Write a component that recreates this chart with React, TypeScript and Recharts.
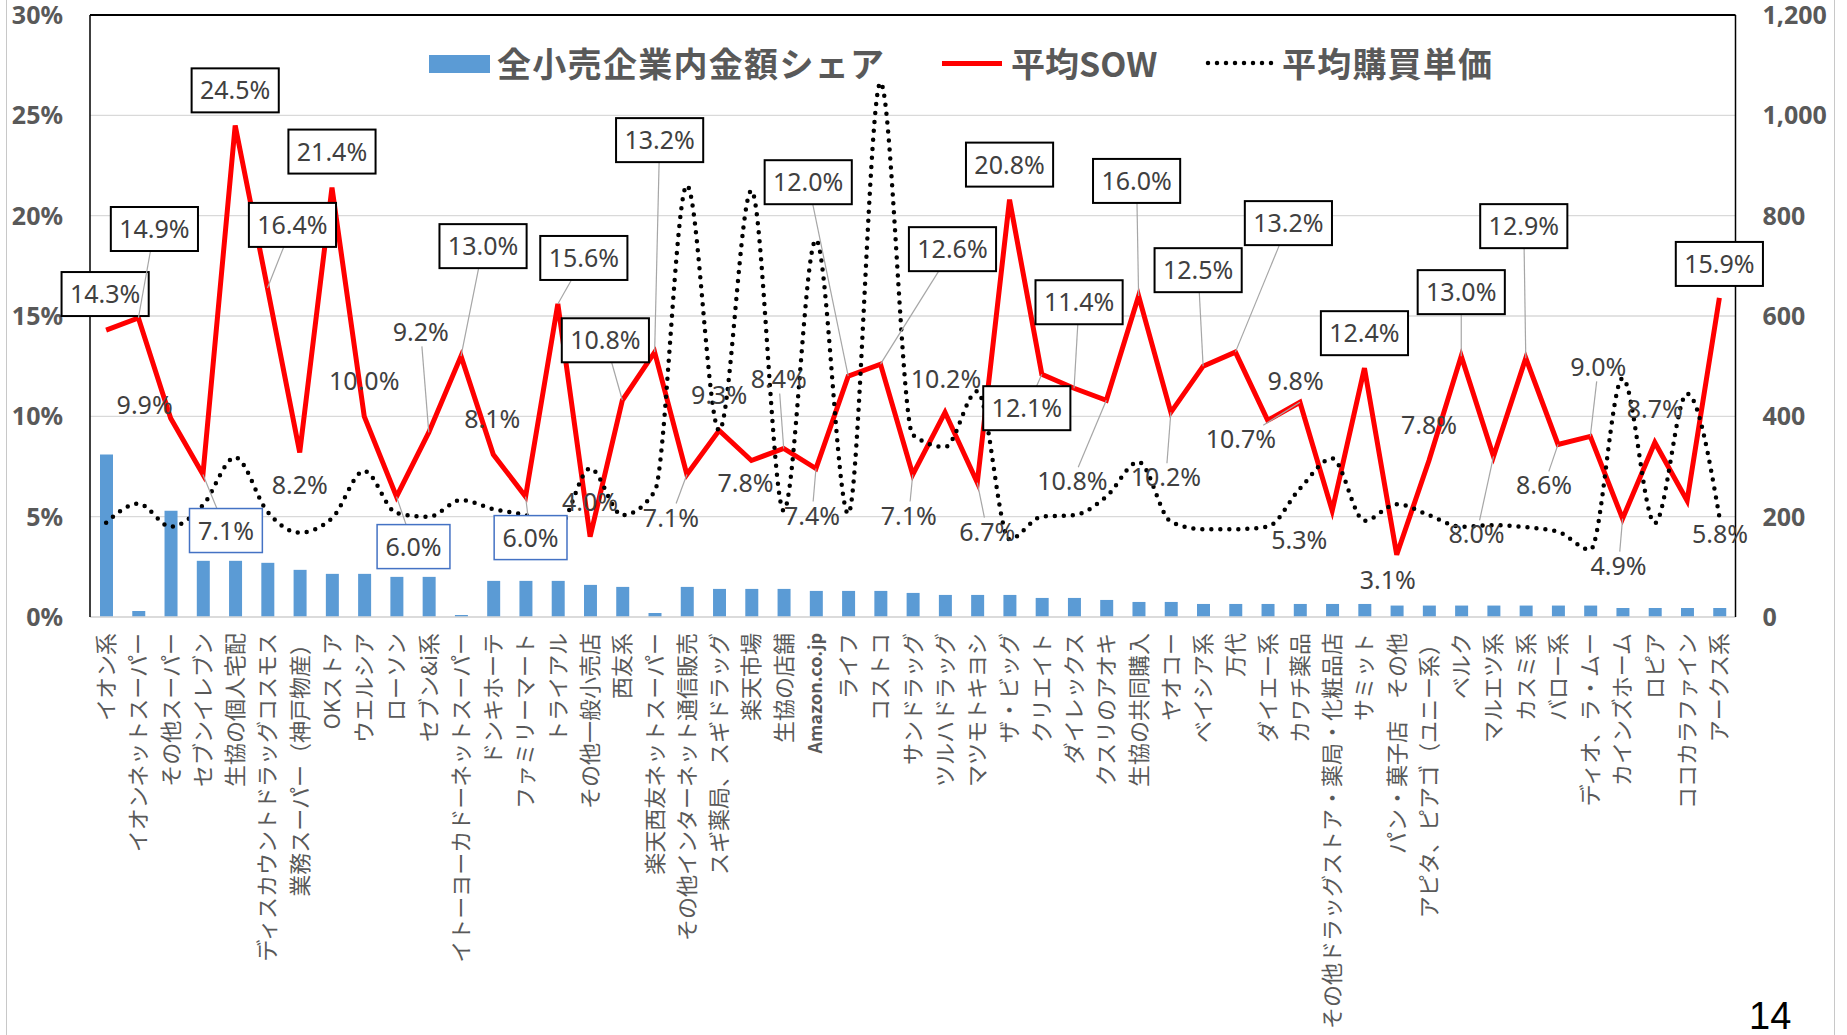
import {
  ComposedChart,
  Bar,
  Line,
  XAxis,
  YAxis,
  CartesianGrid,
  ReferenceLine,
  Legend,
  LabelList,
} from 'recharts'

const stores = [
  'イオン系', 'イオンネットスーパー', 'その他スーパー', 'セブンイレブン', '生協の個人宅配',
  'ディスカウントドラッグコスモス', '業務スーパー（神戸物産）', 'OKストア', 'ウエルシア', 'ローソン',
  'セブン&i系', 'イトーヨーカドーネットスーパー', 'ドンキホーテ', 'ファミリーマート', 'トライアル',
  'その他一般小売店', '西友系', '楽天西友ネットスーパー', 'その他インターネット通信販売', 'スギ薬局、スギドラッグ',
  '楽天市場', '生協の店舗', 'Amazon.co.jp', 'ライフ', 'コストコ',
  'サンドラッグ', 'ツルハドラッグ', 'マツモトキヨシ', 'ザ・ビッグ', 'クリエイト',
  'ダイレックス', 'クスリのアオキ', '生協の共同購入', 'ヤオコー', 'ベイシア系',
  '万代', 'ダイエー系', 'カワチ薬品', 'その他ドラッグストア・薬局・化粧品店', 'サミット',
  'パン・菓子店　その他', 'アピタ、ピアゴ（ユニー系）', 'ベルク', 'マルエツ系', 'カスミ系',
  'バロー系', 'ディオ、ラ・ムー', 'カインズホーム', 'ロピア', 'ココカラファイン',
  'アークス系',
]

// 全小売企業内金額シェア (%)
const amountShare = [
  8.1, 0.3, 5.3, 2.8, 2.8, 2.7, 2.35, 2.15, 2.15, 2.0,
  2.0, 0.1, 1.8, 1.8, 1.8, 1.6, 1.5, 0.2, 1.5, 1.4,
  1.4, 1.4, 1.3, 1.3, 1.3, 1.2, 1.1, 1.1, 1.1, 0.95,
  0.95, 0.85, 0.75, 0.75, 0.65, 0.65, 0.65, 0.65, 0.65, 0.65,
  0.57, 0.57, 0.57, 0.57, 0.57, 0.57, 0.57, 0.45, 0.45, 0.45,
  0.45,
]

// 平均SOW (%)
const avgSow = [
  14.3, 14.9, 9.9, 7.1, 24.5, 16.4, 8.2, 21.4, 10.0, 6.0,
  9.2, 13.0, 8.1, 6.0, 15.6, 4.0, 10.8, 13.2, 7.1, 9.3,
  7.8, 8.4, 7.4, 12.0, 12.6, 7.1, 10.2, 6.7, 20.8, 12.1,
  11.4, 10.8, 16.0, 10.2, 12.5, 13.2, 9.8, 10.7, 5.3, 12.4,
  3.1, 7.8, 13.0, 8.0, 12.9, 8.6, 9.0, 4.9, 8.7, 5.8,
  15.9,
]

// 平均購買単価
const avgPrice = [
  188, 226, 180, 223, 318, 210, 168, 197, 291, 207,
  200, 233, 215, 203, 180, 296, 203, 250, 860, 372,
  850, 212, 752, 206, 1065, 363, 339, 450, 155, 200,
  203, 240, 309, 190, 175, 175, 180, 256, 316, 192,
  225, 203, 180, 183, 179, 170, 134, 476, 187, 445,
  200,
]

const shareTicks = [0, 5, 10, 15, 20, 25, 30]
const priceTicks = [0, 200, 400, 600, 800, 1000, 1200]

// where each SOW label sits relative to its point, and how it is framed
// b = black box, u = blue box, n = no box
const labelDx = [
  -1, 16, -26, 23, 0, 25, 0, 0, 0, 17,
  -8, 22, -1, 5, 26, 0, -17, 5, -16, 0,
  -6, -5, -4, -40, 72, -4, 1, 10, 0, -15,
  5, -34, -2, -5, -5, 53, 28, -59, -33, 0,
  -9, 0, 0, -17, -2, -14, 8, -4, 0, 33,
  0,
]
const labelDy = [
  -36, -89, -13, 56, -35, -63, 33, -36, -35, 50,
  -100, -110, -35, 41, -46, -35, -60, -212, 43, -35,
  23, -69, 47, -194, -115, 41, -33, 49, -35, 34,
  -86, 81, -115, 65, -96, -129, -39, 37, 29, -35,
  25, -35, -64, 78, -132, 41, -69, 47, -33, 33,
  -34,
]
const labelKind = [
  'b', 'b', 'n', 'u', 'b', 'b', 'n', 'b', 'n', 'u',
  'n', 'b', 'n', 'u', 'b', 'n', 'b', 'b', 'n', 'n',
  'n', 'n', 'n', 'b', 'b', 'n', 'n', 'n', 'b', 'b',
  'b', 'n', 'b', 'n', 'b', 'b', 'n', 'n', 'n', 'b',
  'n', 'n', 'b', 'n', 'b', 'n', 'n', 'n', 'n', 'n',
  'b',
]
const labelLeader = [
  0, 1, 0, 1, 0, 1, 0, 0, 0, 1,
  1, 1, 0, 1, 1, 0, 1, 1, 1, 0,
  0, 1, 1, 1, 1, 1, 0, 1, 0, 1,
  1, 1, 1, 1, 1, 1, 0, 1, 0, 0,
  0, 0, 1, 1, 1, 1, 1, 1, 0, 0,
  0,
]

const data = stores.map((name, i) => ({
  name,
  share: amountShare[i],
  sow: avgSow[i],
  price: avgPrice[i],
}))

const GRAY = '#595959'
const LABEL_FONT = 25

const textWidth = (s: string) => {
  let w = 0
  for (const c of s) {
    if (c === '.') w += 0.27
    else if (c === '%') w += 0.86
    else w += 0.572
  }
  return w * LABEL_FONT
}

const SowLabel = (props: any) => {
  const i = props.index
  const px = props.viewBox?.x ?? props.x
  const py = props.viewBox?.y ?? props.y
  if (i == null || px == null || py == null) return null
  const cx = px + labelDx[i]
  const cy = py + labelDy[i]
  const text = `${avgSow[i].toFixed(1)}%`
  const tw = textWidth(text)
  const kind = labelKind[i]
  const w = tw + 16
  const h = 44
  let leader = null
  if (labelLeader[i]) {
    const dx = px - cx
    const dy = py - cy
    const hw = kind === 'n' ? tw / 2 + 2 : w / 2
    const hh = kind === 'n' ? 14 : h / 2
    const t = Math.min(
      dx !== 0 ? hw / Math.abs(dx) : Infinity,
      dy !== 0 ? hh / Math.abs(dy) : Infinity,
    )
    leader = (
      <line x1={cx + dx * t} y1={cy + dy * t} x2={px} y2={py} stroke="#A6A6A6" strokeWidth={1.2} />
    )
  }
  return (
    <g>
      {leader}
      {kind !== 'n' && (
        <rect
          x={cx - w / 2}
          y={cy - h / 2}
          width={w}
          height={h}
          fill="#fff"
          stroke={kind === 'u' ? '#4472C4' : '#000'}
          strokeWidth={kind === 'u' ? 1.5 : 2}
        />
      )}
      <text
        x={cx}
        y={cy}
        dy="0.36em"
        textAnchor="middle"
        fontSize={LABEL_FONT}
        fontFamily="'Noto Sans', 'Noto Sans CJK JP', sans-serif"
        fill="#404040"
      >
        {text}
      </text>
    </g>
  )
}

const StoreTick = ({ x, y, payload }: any) => {
  const latin = /^[A-Za-z.]+$/.test(payload.value)
  return (
    <text
      x={x}
      y={y}
      dy="0.36em"
      transform={`rotate(-90 ${x} ${y})`}
      textAnchor="end"
      fontSize={latin ? 18 : 22}
      fontWeight={latin ? 700 : 400}
      fontFamily="'Noto Sans CJK JP', sans-serif"
      fill={GRAY}
    >
      {payload.value}
    </text>
  )
}

const ShareTick = ({ x, y, payload }: any) => (
  <text x={x} y={y} dy="0.36em" textAnchor="end" fontSize={25} fontWeight={700}
    fontFamily="'Noto Sans', sans-serif" fill={GRAY}>
    {payload.value}%
  </text>
)

const PriceTick = ({ x, y, payload }: any) => (
  <text x={x} y={y} dy="0.36em" textAnchor="start" fontSize={25} fontWeight={700}
    fontFamily="'Noto Sans', sans-serif" fill={GRAY}>
    {payload.value.toLocaleString('en-US')}
  </text>
)

const legendText: React.CSSProperties = {
  position: 'absolute',
  top: 43,
  height: 40,
  lineHeight: '40px',
  fontSize: 34,
  fontWeight: 700,
  color: GRAY,
  fontFamily: "'Noto Sans CJK JP', sans-serif",
  whiteSpace: 'nowrap',
}

const renderLegend = () => (
  <div style={{ position: 'relative', width: 1847, height: 100 }}>
    <div style={{ position: 'absolute', left: 429, top: 55, width: 61, height: 18, background: '#5B9BD5' }} />
    <span style={{ ...legendText, left: 497, letterSpacing: 1.3 }}>全小売企業内金額シェア</span>
    <div style={{ position: 'absolute', left: 942, top: 60.5, width: 60, height: 5, background: '#FF0000' }} />
    <span style={{ ...legendText, left: 1011 }}>平均SOW</span>
    <svg style={{ position: 'absolute', left: 1205, top: 55 }} width={70} height={16}>
      <line x1={3} y1={8} x2={67} y2={8} stroke="#000" strokeWidth={4.5}
        strokeDasharray="0 9" strokeLinecap="round" />
    </svg>
    <span style={{ ...legendText, left: 1282, letterSpacing: 1.2 }}>平均購買単価</span>
  </div>
)

export default function App() {
  return (
    <div style={{ position: 'relative', width: 1847, height: 1035, background: '#fff', overflow: 'hidden' }}>
      <style>{'body{margin:0}'}</style>
      <div style={{ position: 'absolute', left: 6, top: 0, width: 1, height: 1035, background: '#C8C8C8' }} />
      <div style={{ position: 'absolute', left: 1834, top: 0, width: 1, height: 1035, background: '#C8C8C8' }} />
      <ComposedChart
        width={1847}
        height={1035}
        data={data}
        margin={{ top: 15, right: 0, bottom: 0, left: 0 }}
      >
        <CartesianGrid yAxisId="left" vertical={false} stroke="#D9D9D9" strokeWidth={1.3} />
        <XAxis
          dataKey="name"
          interval={0}
          height={418}
          tickSize={0}
          tickMargin={16}
          tickLine={false}
          axisLine={{ stroke: '#D9D9D9', strokeWidth: 1.3 }}
          tick={<StoreTick />}
        />
        <YAxis
          yAxisId="left"
          domain={[0, 30]}
          ticks={shareTicks}
          width={90}
          tickSize={0}
          tickMargin={27}
          tickLine={false}
          axisLine={{ stroke: '#000', strokeWidth: 1.5 }}
          tick={<ShareTick />}
        />
        <YAxis
          yAxisId="right"
          orientation="right"
          domain={[0, 1200]}
          ticks={priceTicks}
          width={111.5}
          tickSize={0}
          tickMargin={27}
          tickLine={false}
          axisLine={{ stroke: '#000', strokeWidth: 1.5 }}
          tick={<PriceTick />}
        />
        <ReferenceLine yAxisId="left" y={30} stroke="#000" strokeWidth={2} />
        <Legend
          layout="vertical"
          align="center"
          verticalAlign="middle"
          wrapperStyle={{ top: 0, left: 0, width: 1847, height: 100 }}
          content={renderLegend}
        />
        <Bar yAxisId="left" dataKey="share" fill="#5B9BD5" barSize={13} isAnimationActive={false} />
        <Line
          yAxisId="left"
          dataKey="sow"
          type="linear"
          stroke="#FF0000"
          strokeWidth={5}
          dot={false}
          activeDot={false}
          isAnimationActive={false}
        />
        <Line
          yAxisId="right"
          dataKey="price"
          type="monotone"
          stroke="#000"
          strokeWidth={4.5}
          strokeDasharray="0 9"
          strokeLinecap="round"
          dot={false}
          activeDot={false}
          isAnimationActive={false}
        />
        <Line
          yAxisId="left"
          dataKey="sow"
          stroke="none"
          dot={false}
          activeDot={false}
          legendType="none"
          isAnimationActive={false}
        >
          <LabelList dataKey="sow" content={SowLabel} />
        </Line>
      </ComposedChart>
      <div
        style={{
          position: 'absolute',
          left: 1749,
          top: 994,
          fontSize: 38,
          lineHeight: '44px',
          fontFamily: "'Liberation Sans', Arial, sans-serif",
          color: '#000',
        }}
      >
        14
      </div>
    </div>
  )
}
